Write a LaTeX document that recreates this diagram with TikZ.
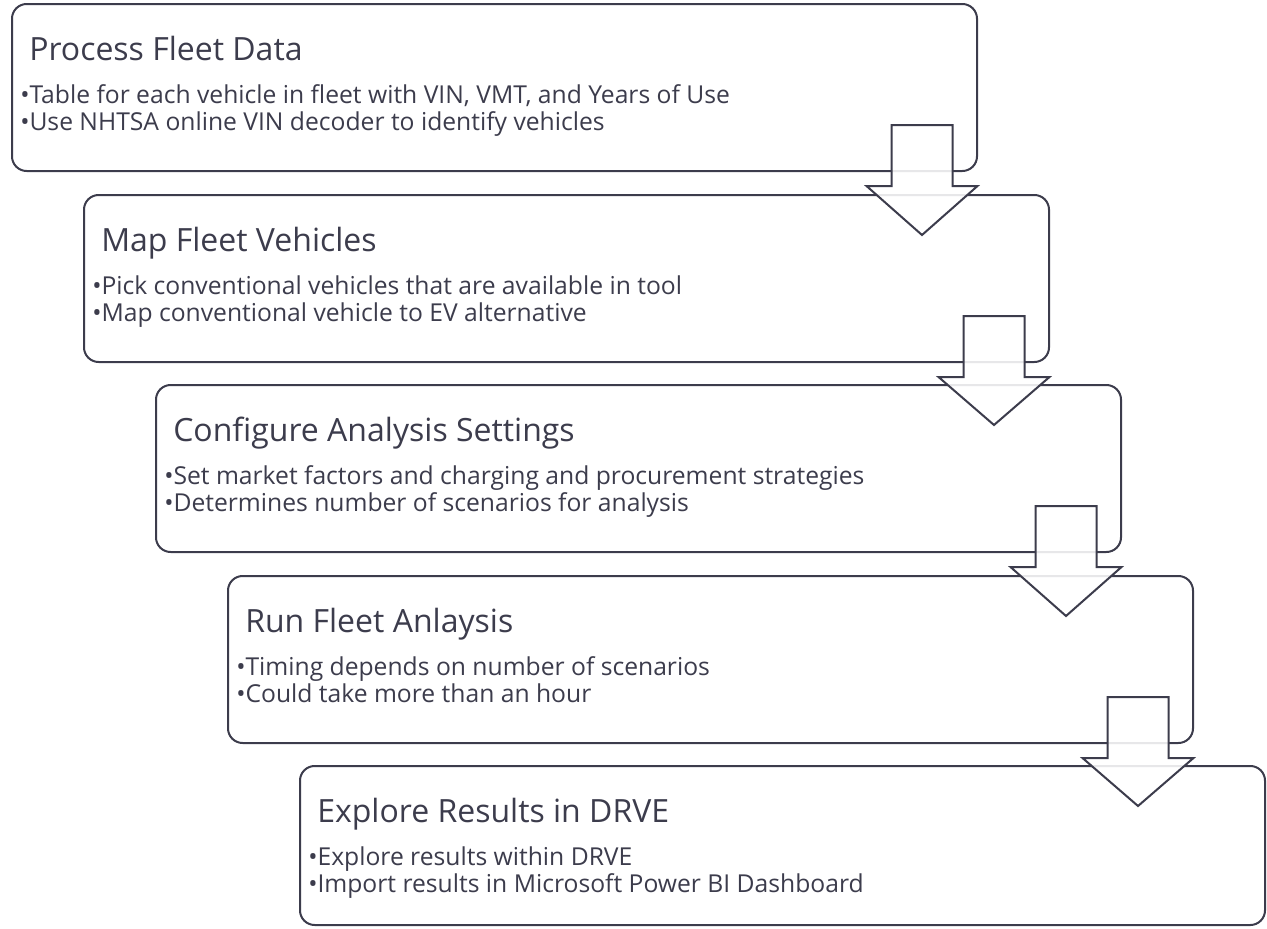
\documentclass[tikz,border=0pt]{standalone}
\usepackage{fontspec}
\setmainfont{Open Sans}
\usetikzlibrary{calc}
\definecolor{slate}{RGB}{60,60,76}

\begin{document}
\begin{tikzpicture}[x=0.75pt, y=0.75pt,
    stepbox/.style={rectangle, draw=slate, line width=1.5pt, rounded corners=11pt, fill=white,
        minimum width=723.75pt, minimum height=125.25pt, outer sep=0pt, inner sep=0pt, anchor=north west},
    steptitle/.style={font=\fontsize{24}{29}\selectfont, text=slate, inner sep=0pt, anchor=base west},
    stepitem/.style={font=\fontsize{18.5}{22}\selectfont, text=slate, inner sep=0pt, anchor=base west},
    downarrow/.style={draw=slate, line width=1.5pt, fill=white, fill opacity=0.88}]

\useasboundingbox (0,0) rectangle (1267,-928);

% Boxes
\node [stepbox] (p1) at (12,-4) {};
\node [stepbox] (p2) at (84,-195) {};
\node [stepbox] (p3) at (156,-385) {};
\node [stepbox] (p4) at (228,-576) {};
\node [stepbox, minimum height=119.25pt] (p5) at (300,-766) {};

% Texts
\node [steptitle] (t1) at ($(p1.north west)+(17,-56)$) {Process Fleet Data};
\node [stepitem] (i1a) at ($(p1.north west)+(8,-99)$) {•Table for each vehicle in fleet with VIN, VMT, and Years of Use};
\node [stepitem] (i1b) at ($(p1.north west)+(8,-126)$) {•Use NHTSA online VIN decoder to identify vehicles};

\node [steptitle] (t2) at ($(p2.north west)+(17,-56)$) {Map Fleet Vehicles};
\node [stepitem] (i2a) at ($(p2.north west)+(8,-99)$) {•Pick conventional vehicles that are available in tool};
\node [stepitem] (i2b) at ($(p2.north west)+(8,-126)$) {•Map conventional vehicle to EV alternative};

\node [steptitle] (t3) at ($(p3.north west)+(17,-56)$) {Configure Analysis Settings};
\node [stepitem] (i3a) at ($(p3.north west)+(8,-99)$) {•Set market factors and charging and procurement strategies};
\node [stepitem] (i3b) at ($(p3.north west)+(8,-126)$) {•Determines number of scenarios for analysis};

\node [steptitle] (t4) at ($(p4.north west)+(17,-56)$) {Run Fleet Anlaysis};
\node [stepitem] (i4a) at ($(p4.north west)+(8,-99)$) {•Timing depends on number of scenarios};
\node [stepitem] (i4b) at ($(p4.north west)+(8,-126)$) {•Could take more than an hour};

\node [steptitle] (t5) at ($(p5.north west)+(17,-56)$) {Explore Results in DRVE};
\node [stepitem] (i5a) at ($(p5.north west)+(8,-99)$) {•Explore results within DRVE};
\node [stepitem] (i5b) at ($(p5.north west)+(8,-126)$) {•Import results in Microsoft Power BI Dashboard};

% Block arrows between steps
\foreach \a/\b in {p1/p2, p2/p3, p3/p4, p4/p5}
  \draw [downarrow] let \p1=(\a.south east), \p2=(\b.north) in
    (\x1-64.125pt,\y1+34.5pt) -- (\x1-18.375pt,\y1+34.5pt) -- (\x1-18.375pt,\y1-11.25pt)
    -- (\x1+0.375pt,\y1-11.25pt) -- (\x1-41.25pt,\y2-30pt) -- (\x1-82.875pt,\y1-11.25pt)
    -- (\x1-64.125pt,\y1-11.25pt) -- cycle;

\end{tikzpicture}
\end{document}
